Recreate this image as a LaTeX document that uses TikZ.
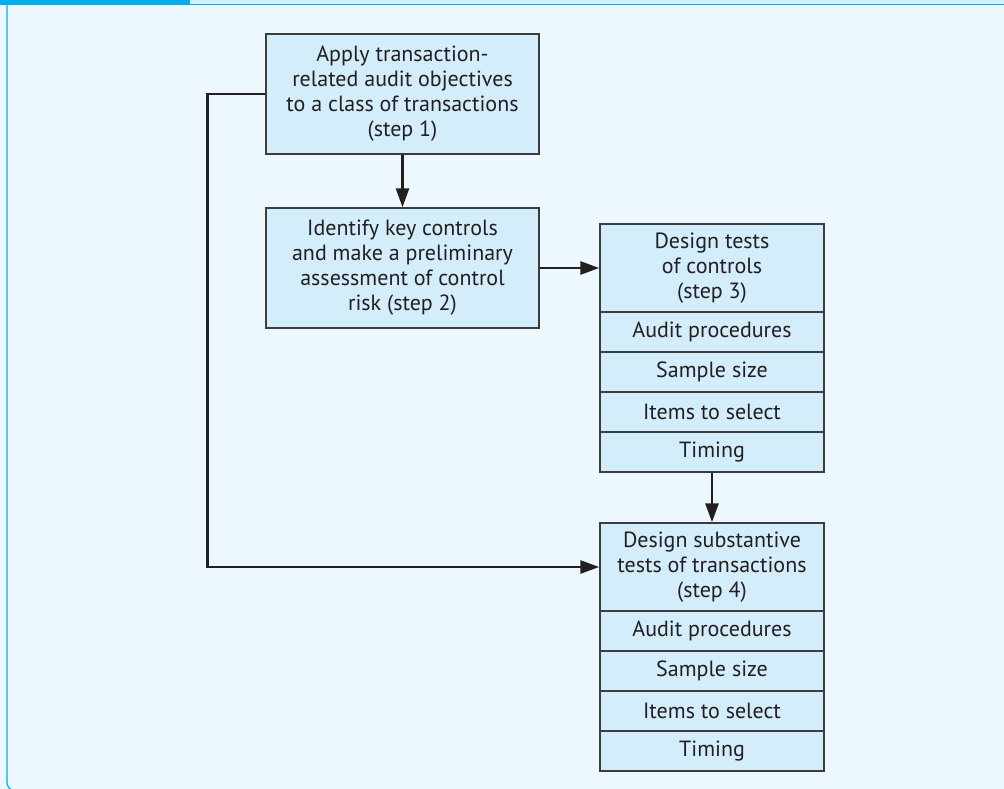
\documentclass[tikz,border=0pt]{standalone}
\usepackage{fontspec}
\setmainfont{PT Sans}
\usepackage{tikz}
\usetikzlibrary{arrows.meta,positioning}

\definecolor{panelbg}{HTML}{ECF7FE}
\definecolor{boxfill}{HTML}{D3EDFB}
\definecolor{barblue}{HTML}{00AEEF}
\definecolor{barlight}{HTML}{D4EEFB}
\definecolor{edgegray}{HTML}{3C3C3C}
\definecolor{arrowdark}{HTML}{231F20}

\begin{document}
\begin{tikzpicture}[
    x=1pt, y=-1pt,
    font=\fontsize{22}{25}\selectfont,
    block/.style={rectangle, draw=edgegray, line width=1.5pt, fill=boxfill, text=arrowdark, align=center, minimum width=273pt, minimum height=120pt, inner sep=0pt},
    head/.style={block, minimum width=224pt, minimum height=88pt},
    itemrow/.style={block, minimum width=224pt, minimum height=40pt, below=-1.5pt of #1},
    arrow/.style={-{Triangle[length=19pt,width=13pt]}, line width=2.8pt, draw=arrowdark}
]
% panel
\clip (0,0) rectangle (1004,789);
\fill[panelbg] (0,0) rectangle (1004,789);
\fill[barlight] (190,0) rectangle (1004,4);
\draw[barblue, line width=1.2pt] (190,4.8) -- (1004,4.8);
\fill[barblue] (0,0) rectangle (190,5.5);
\draw[barblue, line width=1.2pt, rounded corners=8pt] (7,5) -- (7,790.5) -- (60,790.5);

% steps 1 and 2
\node[block] (apply) at (402.5,94) {Apply transaction-\\related audit objectives\\to a class of transactions\\(step 1)};
\node[block] (identify) at (402.5,268) {Identify key controls\\and make a preliminary\\assessment of control\\risk (step 2)};

% step 3
\node[head] (design3) at (712,268) {Design tests\\of controls\\(step 3)};
\node[itemrow=design3] (audit3) {Audit procedures};
\node[itemrow=audit3] (sample3) {Sample size};
\node[itemrow=sample3] (items3) {Items to select};
\node[itemrow=items3] (timing3) {Timing};

% step 4
\node[head] (design4) at (712,567) {Design substantive\\tests of transactions\\(step 4)};
\node[itemrow=design4] (audit4) {Audit procedures};
\node[itemrow=audit4] (sample4) {Sample size};
\node[itemrow=sample4] (items4) {Items to select};
\node[itemrow=items4] (timing4) {Timing};

\draw[arrow] (apply) -- (identify);
\draw[arrow] (identify) -- (design3);
\draw[arrow] (timing3) -- (design4);
\draw[arrow] (apply.west) -- ++(-58,0) |- (design4);
\end{tikzpicture}
\end{document}
